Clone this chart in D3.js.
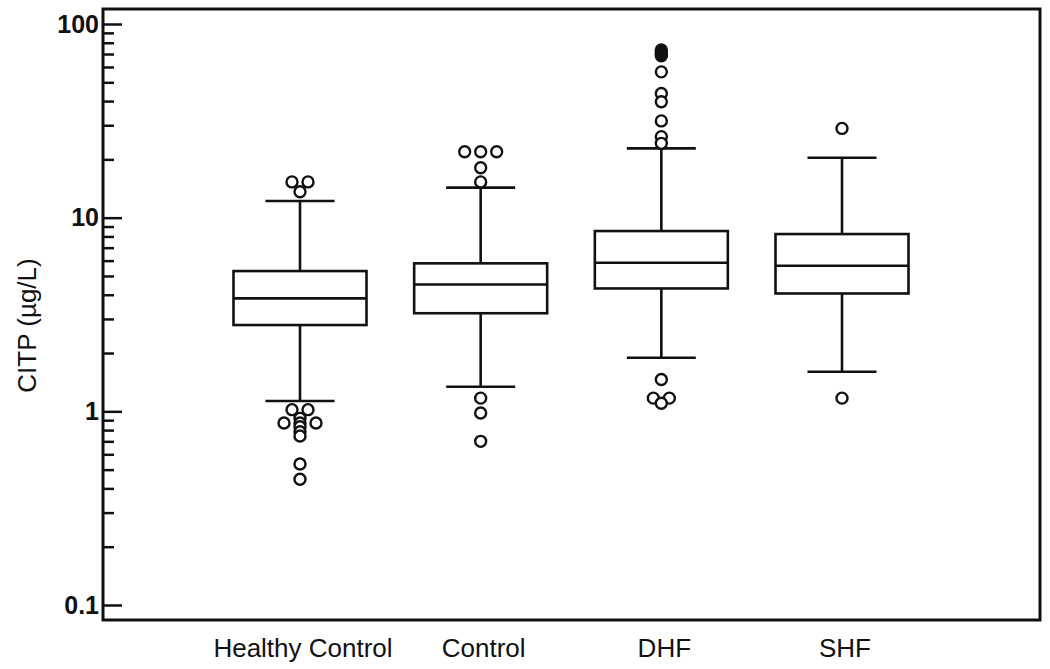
<!DOCTYPE html>
<html>
<head>
<meta charset="utf-8">
<script src="https://cdn.jsdelivr.net/npm/d3@7"></script>
<style>
  body { margin: 0; background: #fff; }
  svg text { font-family: "Liberation Sans", Arial, sans-serif; fill: #111; }
</style>
</head>
<body>
<svg id="chart" width="1050" height="669"></svg>
<script>
var width = 1050
var height = 669

// box plot summary per group
var groups = ["Healthy Control", "Control", "DHF", "SHF"];
var q1 = [2.79, 3.21, 4.31, 4.06];
var medians = [3.83, 4.52, 5.85, 5.65];
var q3 = [5.30, 5.81, 8.53, 8.23];
var whiskerLow = [1.13, 1.34, 1.89, 1.60];
var whiskerHigh = [12.2, 14.3, 22.8, 20.4];

// outliers (ties are repeated values)
var outliersHC = [15.3, 15.3, 13.6, 1.02, 1.02, 0.92, 0.87, 0.87, 0.87, 0.833, 0.785, 0.746, 0.535, 0.446];
var outliersControl = [21.9, 21.9, 21.9, 18.1, 15.3, 1.17, 0.98, 0.70];
var outliersDHF = [73.5, 71.5, 70, 68.5, 56.6, 43.8, 39.7, 31.6, 26.2, 24.2, 1.46, 1.17, 1.17, 1.10];
var outliersSHF = [28.9, 1.17];
var outliers = [outliersHC, outliersControl, outliersDHF, outliersSHF];

var majorTicks = [0.1, 1, 10, 100];
var minorTicks = [0.2, 0.3, 0.4, 0.5, 0.6, 0.7, 0.8, 0.9,
                  2, 3, 4, 5, 6, 7, 8, 9,
                  20, 30, 40, 50, 60, 70, 80, 90];

var plotLeft = 103, plotRight = 1040, plotTop = 9, plotBottom = 620;
var boxWidth = 133, capWidth = 69, radius = 5.5;

var svg = d3.select('#chart');

var y = d3.scaleLog()
    .domain([0.1, 100])
    .range([605, 24]);

var x = d3.scalePoint()
    .domain(groups)
    .range([300, 842]);

// frame
svg.append("rect")
    .attr("x", plotLeft)
    .attr("y", plotTop)
    .attr("width", plotRight - plotLeft)
    .attr("height", plotBottom - plotTop)
    .attr("fill", "none")
    .attr("stroke", "#111")
    .attr("stroke-width", 3);

// y axis, ticks point inward
var majorAxis = svg.append("g")
    .attr("transform", "translate(" + plotLeft + ",0)")
    .call(d3.axisLeft(y).tickValues(majorTicks).tickSize(-19).tickPadding(4)
        .tickFormat(function(d) { return d < 1 ? d3.format(".1f")(d) : d3.format("d")(d); }));
majorAxis.select(".domain").remove();
majorAxis.selectAll("line").attr("stroke", "#111").attr("stroke-width", 2.5);
majorAxis.selectAll("text")
    .attr("font-size", 25)
    .attr("font-weight", "bold")
    .attr("font-family", "Liberation Sans, Arial, sans-serif");

var minorAxis = svg.append("g")
    .attr("transform", "translate(" + plotLeft + ",0)")
    .call(d3.axisLeft(y).tickValues(minorTicks).tickSize(-11).tickFormat(""));
minorAxis.select(".domain").remove();
minorAxis.selectAll("line").attr("stroke", "#111").attr("stroke-width", 2.5);

// y label
svg.append("text")
    .attr("transform", "translate(36," + ((plotTop + plotBottom) / 2 + 11) + ") rotate(-90)")
    .attr("text-anchor", "middle")
    .attr("font-size", 26)
    .text("CITP (µg/L)");

// x labels
svg.selectAll(".xlabel")
    .data(groups)
    .enter().append("text")
        .attr("class", "xlabel")
        .attr("x", function(d) { return x(d) + 3; })
        .attr("y", 657)
        .attr("text-anchor", "middle")
        .attr("font-size", 26)
        .text(function(d) { return d; });

// boxes
var boxes = svg.selectAll(".box")
    .data(groups)
    .enter().append("g")
        .attr("class", "box");

boxes.append("line")
    .attr("x1", function(d) { return x(d); })
    .attr("x2", function(d) { return x(d); })
    .attr("y1", function(d, i) { return y(whiskerHigh[i]); })
    .attr("y2", function(d, i) { return y(q3[i]); });
boxes.append("line")
    .attr("x1", function(d) { return x(d); })
    .attr("x2", function(d) { return x(d); })
    .attr("y1", function(d, i) { return y(q1[i]); })
    .attr("y2", function(d, i) { return y(whiskerLow[i]); });
boxes.append("line")
    .attr("x1", function(d) { return x(d) - capWidth / 2; })
    .attr("x2", function(d) { return x(d) + capWidth / 2; })
    .attr("y1", function(d, i) { return y(whiskerHigh[i]); })
    .attr("y2", function(d, i) { return y(whiskerHigh[i]); });
boxes.append("line")
    .attr("x1", function(d) { return x(d) - capWidth / 2; })
    .attr("x2", function(d) { return x(d) + capWidth / 2; })
    .attr("y1", function(d, i) { return y(whiskerLow[i]); })
    .attr("y2", function(d, i) { return y(whiskerLow[i]); });
boxes.append("rect")
    .attr("x", function(d) { return x(d) - boxWidth / 2; })
    .attr("y", function(d, i) { return y(q3[i]); })
    .attr("width", boxWidth)
    .attr("height", function(d, i) { return y(q1[i]) - y(q3[i]); })
    .attr("fill", "#fff");
boxes.append("line")
    .attr("x1", function(d) { return x(d) - boxWidth / 2; })
    .attr("x2", function(d) { return x(d) + boxWidth / 2; })
    .attr("y1", function(d, i) { return y(medians[i]); })
    .attr("y2", function(d, i) { return y(medians[i]); });
boxes.selectAll("line, rect")
    .attr("stroke", "#111")
    .attr("stroke-width", 2.6);

// outliers: ties spread side by side, very close points drawn filled
var pts = [];
outliers.forEach(function(vals, gi) {
    vals.forEach(function(v, j) {
        var ties = vals.filter(function(w) { return w === v; }).length;
        var k = vals.slice(0, j).filter(function(w) { return w === v; }).length;
        var crowded = vals.some(function(w, m) {
            return m !== j && w !== v && Math.abs(y(w) - y(v)) < 3;
        });
        pts.push({ g: groups[gi], v: v, dx: (k - (ties - 1) / 2) * 16, filled: crowded });
    });
});

svg.selectAll(".outlier")
    .data(pts)
    .enter().append("circle")
        .attr("class", "outlier")
        .attr("cx", function(d) { return x(d.g) + d.dx; })
        .attr("cy", function(d) { return y(d.v); })
        .attr("r", radius)
        .attr("fill", function(d) { return d.filled ? "#111" : "#fff"; })
        .attr("stroke", "#111")
        .attr("stroke-width", 2.4);
</script>
</body>
</html>
